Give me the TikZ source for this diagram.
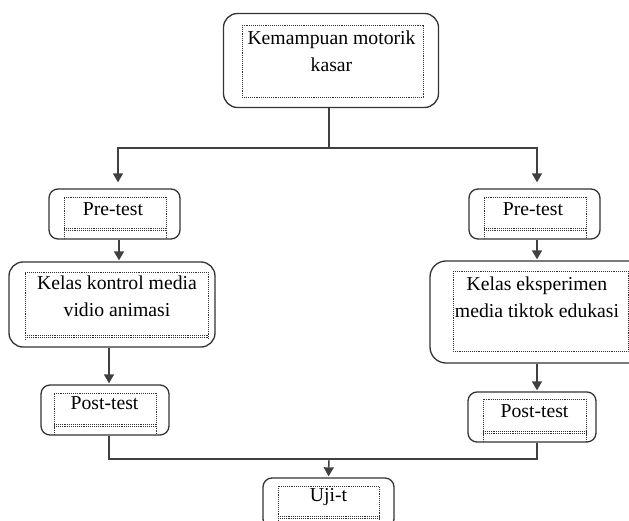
\documentclass[tikz,border=0pt]{standalone}
\usepackage{fontspec}
\setmainfont{Liberation Serif}
\usetikzlibrary{arrows.meta}
\begin{document}
\begin{tikzpicture}[x=1pt,y=-1pt,
  outerbox/.style={draw=black!80, line width=1.3pt, rectangle, inner sep=0pt},
  dotline/.style={draw=black!80, line width=0.9pt, densely dotted},
  conn/.style={draw=black!75, line width=1.4pt},
  arr/.style={conn, -{Triangle[width=10pt,length=9pt]}},
  lbl/.style={align=center, inner sep=0pt, font=\fontsize{19.7}{27}\selectfont}]
\useasboundingbox (0,0) rectangle (629,521);
\clip (0,0) rectangle (629,521);
% outer boxes
\node[outerbox, rounded corners=14pt, minimum width=215pt, minimum height=94pt] (top) at (331,60.5) {};
\node[outerbox, rounded corners=9pt, minimum width=131pt, minimum height=50pt] (preL) at (114.5,214) {};
\node[outerbox, rounded corners=9pt, minimum width=131pt, minimum height=50pt] (preR) at (534.5,214) {};
\node[outerbox, rounded corners=14pt, minimum width=206pt, minimum height=85pt] (kelasL) at (112,304.5) {};
\node[outerbox, rounded corners=16pt, minimum width=221pt, minimum height=102pt] (kelasR) at (540.5,312) {};
\node[outerbox, rounded corners=9pt, minimum width=128pt, minimum height=50pt] (postL) at (105,410) {};
\node[outerbox, rounded corners=9pt, minimum width=128pt, minimum height=50pt] (postR) at (532,417) {};
\node[outerbox, rounded corners=9pt, minimum width=131pt, minimum height=50pt] (uji) at (328.5,503) {};
% inner dotted boxes
\draw[dotline] (242,25) rectangle (423,97);
\draw[dotline] (64,239) -- (64,197) -- (166,197) -- (166,239);
\draw[dotline] (64,228) -- (166,228); \draw[dotline] (64,230) -- (166,230);
\draw[dotline] (484,239) -- (484,197) -- (586,197) -- (586,239);
\draw[dotline] (484,228) -- (586,228); \draw[dotline] (484,230) -- (586,230);
\draw[dotline] (25,340) -- (25,272) -- (208,272) -- (208,340);
\draw[dotline] (25,335) -- (208,335); \draw[dotline] (25,337) -- (208,337);
\draw[dotline] (453,271) rectangle (628,351);
\draw[dotline] (54,435) -- (54,393) -- (156,393) -- (156,435);
\draw[dotline] (54,424) -- (156,424); \draw[dotline] (54,426) -- (156,426);
\draw[dotline] (483,442) -- (483,399) -- (586,399) -- (586,442);
\draw[dotline] (483,431) -- (586,431); \draw[dotline] (483,433) -- (586,433);
\draw[dotline] (278,521) -- (278,486) -- (379,486) -- (379,521);
\draw[dotline] (278,516) -- (379,516); \draw[dotline] (278,518) -- (379,518);
% texts
\node[lbl] (tTop) at (331.5,51) {Kemampuan motorik\\kasar};
\node[lbl] (tPreL) at (113,209.5) {Pre-test};
\node[lbl] (tPreR) at (533,209.5) {Pre-test};
\node[lbl] (tKelasL) at (117,296.5) {Kelas kontrol media\\vidio animasi};
\node[lbl] (tKelasR) at (537,297.5) {Kelas eksperimen\\media tiktok edukasi};
\node[lbl] (tPostL) at (104.5,403.5) {Post-test};
\node[lbl] (tPostR) at (534.5,411.5) {Post-test};
\node[lbl] (tUji) at (328.5,497.5) {Uji-t};
% column coordinates
\coordinate (split) at (329,148);
\coordinate (cL1) at (118,0);
\coordinate (cL2) at (119,0);
\coordinate (cL3) at (109,0);
\coordinate (cR) at (537,0);
\coordinate (join) at (329,459);
% connectors
\draw[conn] (top.south -| split) -- (split);
\draw[arr, shorten >=6pt] (split) -| (preL.north -| cL1);
\draw[arr, shorten >=6pt] (split) -| (preR.north -| cR);
\draw[arr, shorten >=1pt] (preL.south -| cL2) -- (kelasL.north -| cL2);
\draw[arr, shorten >=1pt] (preR.south -| cR) -- (kelasR.north -| cR);
\draw[arr, shorten >=1pt] (kelasL.south -| cL3) -- (postL.north -| cL3);
\draw[arr, shorten >=1pt] (kelasR.south -| cR) -- (postR.north -| cR);
\draw[conn] (postL.south -| cL3) |- (join);
\draw[conn] (postR.south -| cR) |- (join);
\draw[arr, shorten >=1pt] (join) -- (uji.north);
\end{tikzpicture}
\end{document}
